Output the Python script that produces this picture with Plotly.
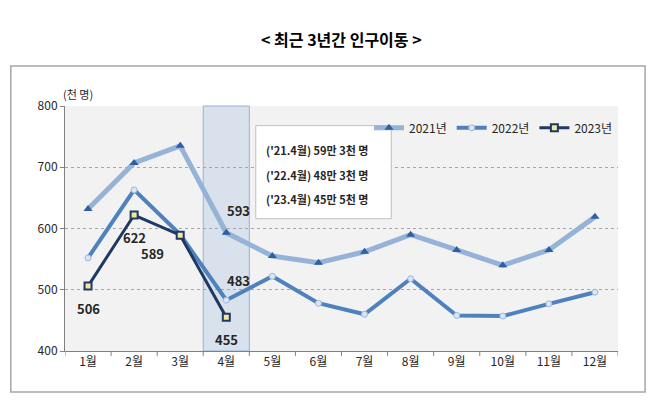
import plotly.graph_objects as go

months = ["1월","2월","3월","4월","5월","6월","7월","8월","9월","10월","11월","12월"]
y2021 = [632, 707, 735, 593, 555, 544, 562, 590, 565, 540, 565, 619]
y2022 = [552, 663, 590, 483, 522, 478, 460, 518, 458, 457, 477, 496]
y2023 = [506, 622, 589, 455]
lab2021 = {3: "593"}
lab2022 = {3: "483"}
lab2023 = {0: "506", 1: "622", 2: "589", 3: "455"}
box_lines = ["('21.4월) 59만 3천 명", "('22.4월) 48만 3천 명", "('23.4월) 45만 5천 명"]
x = list(range(1, 13))

fig = go.Figure()
fig.add_trace(go.Scatter(x=x, y=y2021, name="2021년", mode="lines+markers",
    line=dict(color="#95b3d7", width=5),
    marker=dict(symbol="triangle-up", size=8, color="#2e5fa3")))
fig.add_trace(go.Scatter(x=x, y=y2022, name="2022년", mode="lines+markers",
    line=dict(color="#4f81bd", width=4),
    marker=dict(symbol="circle", size=6, color="#dce6f2", line=dict(color="#9bb7dd", width=1))))
fig.add_trace(go.Scatter(x=x[:4], y=y2023, name="2023년", mode="lines+markers",
    line=dict(color="#1f3864", width=3),
    marker=dict(symbol="square", size=7, color="#f2e9a0", line=dict(color="#1f3864", width=2))))

anns = []
for i, t in lab2021.items():
    anns.append(dict(x=x[i], y=y2021[i], text=t, showarrow=False, xshift=12, yshift=22))
for i, t in lab2022.items():
    anns.append(dict(x=x[i], y=y2022[i], text=t, showarrow=False, xshift=12, yshift=20))
offs = {0: (0, -22), 1: (0, -22), 2: (-28, -18), 3: (0, -22)}
for i, t in lab2023.items():
    anns.append(dict(x=x[i], y=y2023[i], text=t, showarrow=False, xshift=offs[i][0], yshift=offs[i][1]))
for a in anns:
    a["font"] = dict(size=13, color="#262626", family="Noto Sans CJK KR", weight="bold")
anns.append(dict(xref="paper", yref="paper", x=0.5, y=1.33, text="<b>&lt; 최근 3년간 인구이동 &gt;</b>",
    showarrow=False, font=dict(size=16, color="#000", family="Noto Sans CJK KR")))
anns.append(dict(xref="paper", yref="paper", x=0.0, y=1.01, xanchor="left", yanchor="bottom",
    text="(천 명)", showarrow=False, font=dict(size=11, color="#262626", family="Noto Sans CJK KR"), xshift=-4))
for k, t in enumerate(box_lines):
    anns.append(dict(xref="paper", yref="paper", x=0.36, y=0.82 - k * 0.1, xanchor="left", yanchor="middle",
        text="<b>" + t + "</b>", showarrow=False,
        font=dict(size=11, color="#262626", family="Noto Sans CJK KR")))

fig.update_layout(
    width=662, height=418, paper_bgcolor="white", plot_bgcolor="#f2f2f2",
    margin=dict(l=57, r=52, t=98, b=75),
    font=dict(family="Noto Sans CJK KR", size=12, color="#262626"),
    annotations=anns,
    legend=dict(orientation="h", x=1.0, xanchor="right", y=0.97, yanchor="top",
                bgcolor="rgba(0,0,0,0)", font=dict(size=12)),
    xaxis=dict(range=[0.5, 12.5], tickvals=x, ticktext=months, showgrid=False,
               showline=True, linecolor="#808080", ticks="", zeroline=False),
    yaxis=dict(range=[400, 800], dtick=100, showgrid=True, griddash="dot", gridcolor="#a6a6a6",
               showline=True, linecolor="#808080", ticks="outside", ticklen=4, tickcolor="#808080", zeroline=False),
    shapes=[
        dict(type="rect", xref="x", yref="paper", x0=3.5, x1=4.5, y0=0, y1=1,
             fillcolor="rgba(184,204,228,0.45)", line=dict(color="#95b3d7", width=1), layer="below"),
        dict(type="rect", xref="paper", yref="paper", x0=0.345, x1=0.59, y0=0.54, y1=0.92,
             fillcolor="white", line=dict(color="#bfbfbf", width=1), layer="above"),
        dict(type="rect", xref="paper", yref="paper", x0=-0.098, x1=1.049, y0=-0.167, y1=1.163,
             line=dict(color="#a6a6a6", width=1.5), layer="below"),
    ] + [dict(type="line", xref="x", yref="paper", x0=v + 0.5, x1=v + 0.5, y0=0, y1=-0.02,
              line=dict(color="#808080", width=1)) for v in range(0, 13)],
)
fig.write_html("out.html")
